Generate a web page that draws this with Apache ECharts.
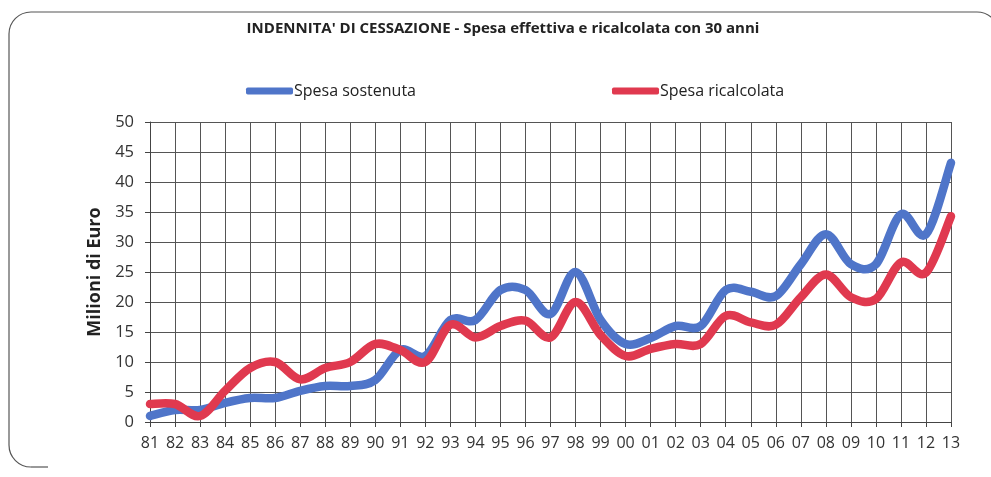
<!DOCTYPE html>
<html>
<head>
<meta charset="utf-8">
<script src="https://cdn.jsdelivr.net/npm/echarts@6/dist/echarts.min.js"></script>
<style>html,body{margin:0;padding:0;background:#fff}#c{width:991px;height:477px}</style>
</head>
<body>
<div id="c"></div>
<script>
const categories = ['81','82','83','84','85','86','87','88','89','90','91','92','93','94','95','96','97','98','99','00','01','02','03','04','05','06','07','08','09','10','11','12','13'];
const spesaSostenuta = [1,2,2,3.2,4,4,5.2,6,6,7,12,11,17,17,22,22,18,25,17,13,14,16,16,22,21.7,21,26.3,31.3,26.3,26.3,34.6,31.3,43.2];
const spesaRicalcolata = [3,3,1,5.2,9,10,7.1,9,10,13,12,10,16.2,14.1,16,16.9,14.1,20,14.5,11,12.2,13,13,17.7,16.6,16.2,20.8,24.6,20.8,20.5,26.6,24.9,34.3];
const yTicks = [0,5,10,15,20,25,30,35,40,45,50];

const font = 'Open Sans';
const bs = {fill: 'none', stroke: '#555', lineWidth: 1.2};

// Excel-like smoothed line (Catmull-Rom Bezier), positions from the chart's own axes via api.coord
function smoothSeries(name, values, color) {
  return {
    name: name, type: 'custom', coordinateSystem: 'cartesian2d',
    data: values.map((v, i) => [i, v]),
    itemStyle: {color: color},
    encode: {x: 0, y: 1},
    renderItem: function (params, api) {
      if (params.dataIndex !== 0) return null;
      const pts = values.map((v, i) => api.coord([i, v]));
      const t = 1 / 6;
      let d = 'M' + pts[0][0] + ' ' + pts[0][1];
      for (let i = 0; i < pts.length - 1; i++) {
        const p0 = pts[Math.max(i - 1, 0)], p1 = pts[i], p2 = pts[i + 1], p3 = pts[Math.min(i + 2, pts.length - 1)];
        const c1x = p1[0] + (p2[0] - p0[0]) * t, c1y = p1[1] + (p2[1] - p0[1]) * t;
        const c2x = p2[0] - (p3[0] - p1[0]) * t, c2y = p2[1] - (p3[1] - p1[1]) * t;
        d += ' C' + c1x + ' ' + c1y + ' ' + c2x + ' ' + c2y + ' ' + p2[0] + ' ' + p2[1];
      }
      return {
        type: 'path', shape: {pathData: d},
        style: {fill: 'none', stroke: color, lineWidth: 8.5, lineCap: 'round', lineJoin: 'round'}
      };
    }
  };
}

const chart = echarts.init(document.getElementById('c'));
chart.setOption({
  backgroundColor: '#fff',
  animation: false,
  textStyle: {fontFamily: font},
  graphic: [
    {type: 'arc', shape: {cx: 31, cy: 445, r: 22, startAngle: Math.PI/2, endAngle: Math.PI}, style: bs, z: -1},
    {type: 'line', shape: {x1: 9, y1: 445, x2: 9, y2: 34}, style: bs, z: -1},
    {type: 'arc', shape: {cx: 31, cy: 34, r: 22, startAngle: Math.PI, endAngle: Math.PI*1.5}, style: bs, z: -1},
    {type: 'line', shape: {x1: 31, y1: 12, x2: 977, y2: 12}, style: bs, z: -1},
    {type: 'arc', shape: {cx: 977, cy: 34, r: 22, startAngle: Math.PI*1.5, endAngle: Math.PI*2}, style: bs, z: -1},
    {type: 'line', shape: {x1: 31, y1: 467, x2: 48, y2: 467}, style: bs, z: -1}
  ],
  title: {
    text: "INDENNITA' DI CESSAZIONE - Spesa effettiva e ricalcolata con 30 anni",
    left: 498, textAlign: 'center', top: 16,
    textStyle: {fontFamily: font, fontSize: 15, fontWeight: 'bold', color: '#222'}
  },
  legend: {
    left: 241, top: 78, itemWidth: 47, itemHeight: 7, itemGap: 196,
    icon: 'roundRect',
    textStyle: {fontFamily: font, fontSize: 16, color: '#222', padding: [0,0,0,-4]},
    data: [
      {name: 'Spesa sostenuta', itemStyle: {color: '#4f75c9'}},
      {name: 'Spesa ricalcolata', itemStyle: {color: '#e0394f'}}
    ]
  },
  grid: {left: 150, right: 40, top: 122, bottom: 55},
  xAxis: {
    type: 'category', data: categories, boundaryGap: false,
    axisLine: {lineStyle: {color: '#444', width: 1}},
    axisTick: {show: true, length: 5, lineStyle: {color: '#444'}},
    axisLabel: {color: '#333', fontSize: 16, margin: 13, fontFamily: font},
    splitLine: {show: true, lineStyle: {color: '#555', width: 1}}
  },
  yAxis: {
    type: 'value', min: yTicks[0], max: yTicks[yTicks.length-1], interval: 5,
    name: 'Milioni di Euro', nameLocation: 'middle', nameGap: 41,
    nameTextStyle: {fontFamily: font, fontSize: 18, fontWeight: 'bold', color: '#222'},
    axisLine: {show: true, lineStyle: {color: '#444'}},
    axisTick: {show: true, length: 5, lineStyle: {color: '#444'}},
    axisLabel: {color: '#333', fontSize: 16.5, margin: 16, fontFamily: font},
    splitLine: {show: true, lineStyle: {color: '#555', width: 1}}
  },
  series: [
    smoothSeries('Spesa sostenuta', spesaSostenuta, '#4f75c9'),
    smoothSeries('Spesa ricalcolata', spesaRicalcolata, '#e0394f')
  ]
});
</script>
</body>
</html>
